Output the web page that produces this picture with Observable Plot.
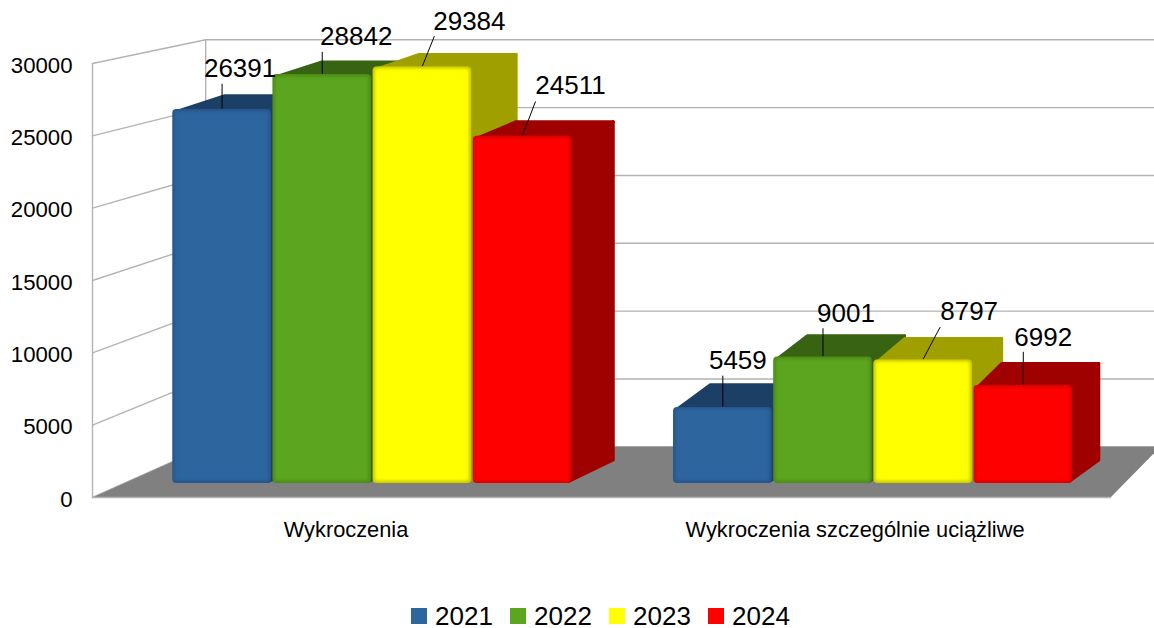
<!DOCTYPE html>
<html lang="pl">
<head>
<meta charset="utf-8">
<script src="https://cdn.jsdelivr.net/npm/d3@7"></script>
<script src="https://cdn.jsdelivr.net/npm/@observablehq/plot@0.6"></script>
<style>
  html, body { margin: 0; padding: 0; background: #fff; overflow: hidden; }
  #chart svg { display: block; }
  #legend { height: 38px; position: relative; font: 26px/24px "Liberation Sans", Arial, sans-serif; color: #000; }
  .item { position: absolute; top: 14px; display: flex; align-items: center; height: 24px; }
  .sw { width: 16px; height: 16px; margin-right: 8px; }
</style>
</head>
<body>
<div id="chart"></div>
<div id="legend"></div>
<script>
const categories = ["Wykroczenia", "Wykroczenia szczególnie uciążliwe"];
const years = ["2021", "2022", "2023", "2024"];
const values2021 = [26391, 5459];
const values2022 = [28842, 9001];
const values2023 = [29384, 8797];
const values2024 = [24511, 6992];
const seriesValues = [values2021, values2022, values2023, values2024];
const yTicks = [0, 5000, 10000, 15000, 20000, 25000, 30000];

const frontColors = ["#2d659f", "#5ca51e", "#ffff00", "#ff0000"];
const edgeColors = ["#26558a", "#4c8a18", "#c8c800", "#dc0000"];
const depthColors = ["#1c3f66", "#376313", "#9f9f00", "#9f0000"];

// leader end and label position, in pixels from the top centre of each bar's front face
const leaderOffsets = [
  [[0, -25], [0, -22], [12, -30], [13, -34]],
  [[0, -31], [0, -28], [17, -32], [0, -33]]
];
const labelOffsets = [
  [[18, -40], [34, -37], [47, -44], [48, -50]],
  [[15, -46], [23, -43], [46, -47], [20, -47]]
];

// perspective of the 3D box, expressed in the units of the x and y scales
const K = 0.0623, VX = 3.57, VY = 56290, BAR_NEAR = 0.26, BAR_FAR = 0.74;
const px = (x, t) => x + t * K * (VX - x);
const py = (v, t) => v + t * K * (VY - v);
const P = (x, v, t) => ({x: px(x, t), y: py(v, t)});
const W = 1154, H = 590, mL = 92, mR = 44, mT = 63, mB = 93;
const xUnit = (W - mL - mR) / 2, yUnit = (H - mT - mB) / 30000;

const gridLines = yTicks.flatMap(v => [
  {...P(0, v, 0), v}, {...P(0, v, 1), v}, {...P(2.2, v, 1), v}
]);
const grey = "#b3b3b3";
const floor = [P(0, 0, 0), P(2, 0, 0), P(2, 0, 1), P(0, 0, 1)];

const barMarks = [];
const labelMarks = [];
categories.forEach((cat, i) => {
  years.forEach((yr, j) => {
    const v = seriesValues[j][i];
    const x1 = i + 0.1 + j * 0.2, x2 = x1 + 0.2;
    // near corners of the depth faces are pulled in so that the round joins stay behind the front face
    const pullX = 4 / xUnit, pullV = 3 / yUnit;
    const side = [P(x2 - pullX, pullV, BAR_NEAR), P(x2 - pullX, v - pullV, BAR_NEAR), P(x2, v, BAR_FAR), P(x2, 0, BAR_FAR)];
    const top = [P(x1 + pullX, v - pullV, BAR_NEAR), P(x2 - pullX, v - pullV, BAR_NEAR), P(x2, v, BAR_FAR), P(x1, v, BAR_FAR)];
    const poly = {x: "x", y: "y", fill: depthColors[j], stroke: depthColors[j], strokeWidth: 3, strokeLinejoin: "round", curve: "linear-closed"};
    const front = [{x1: px(x1, BAR_NEAR), x2: px(x2, BAR_NEAR), y1: py(0, BAR_NEAR), y2: py(v, BAR_NEAR)}];
    const rectOpts = {x1: "x1", x2: "x2", y1: "y1", y2: "y2"};
    barMarks.push(
      Plot.line(side, poly),
      Plot.line(top, poly),
      Plot.rect(front, {...rectOpts, fill: edgeColors[j], inset: 0.8, rx: 4}),
      Plot.rect(front, {...rectOpts, fill: frontColors[j], inset: 3, rx: 2, imageFilter: "blur(1.4px)"})
    );
    const ax = px((x1 + x2) / 2, BAR_NEAR), ay = py(v, BAR_NEAR);
    const [ldx, ldy] = leaderOffsets[i][j];
    const [tdx, tdy] = labelOffsets[i][j];
    labelMarks.push(
      Plot.link([{x1: ax, y1: ay, x2: ax + ldx / xUnit, y2: ay - ldy / yUnit}], {x1: "x1", y1: "y1", x2: "x2", y2: "y2", stroke: "#000", strokeWidth: 1}),
      Plot.text([{x: ax, y: ay, t: String(v)}], {x: "x", y: "y", text: "t", dx: tdx, dy: tdy, fontSize: 26, fill: "#000"})
    );
  });
});

const chart = Plot.plot({
  width: W, height: H,
  marginLeft: mL, marginRight: mR, marginTop: mT, marginBottom: mB,
  style: {fontFamily: "'Liberation Sans', Arial, sans-serif", background: "#fff", color: "#000"},
  x: {domain: [0, 2]},
  y: {domain: [0, 30000]},
  marks: [
    Plot.line(gridLines, {x: "x", y: "y", z: "v", stroke: grey, strokeWidth: 1.4}),
    Plot.line([P(0, 0, 0), P(0, 30000, 0)], {x: "x", y: "y", stroke: grey, strokeWidth: 1.4}),
    Plot.line([P(0, 0, 1), P(0, 30000, 1)], {x: "x", y: "y", stroke: grey, strokeWidth: 1.4}),
    Plot.line(floor, {x: "x", y: "y", fill: "#808080", curve: "linear-closed"}),
    Plot.line([P(0, 0, 0), P(2, 0, 0)], {x: "x", y: "y", stroke: grey, strokeWidth: 1.4}),
    Plot.axisY({ticks: yTicks, tickSize: 0, tickPadding: 20, fontSize: 22.2, dy: 2, label: null, tickFormat: d => String(d)}),
    Plot.axisX({ticks: [0.5, 1.5], tickSize: 0, tickPadding: 24, fontSize: 21.8, dx: -1, label: null, tickFormat: d => categories[d - 0.5]}),
    ...barMarks,
    ...labelMarks
  ]
});
document.getElementById("chart").appendChild(chart);

const legend = document.getElementById("legend");
years.forEach((yr, j) => {
  const el = document.createElement("div");
  el.className = "item";
  el.style.left = (411 + j * 99) + "px";
  const s = document.createElement("span");
  s.className = "sw";
  s.style.background = frontColors[j];
  const t = document.createElement("span");
  t.textContent = yr;
  el.appendChild(s);
  el.appendChild(t);
  legend.appendChild(el);
});
</script>
</body>
</html>
